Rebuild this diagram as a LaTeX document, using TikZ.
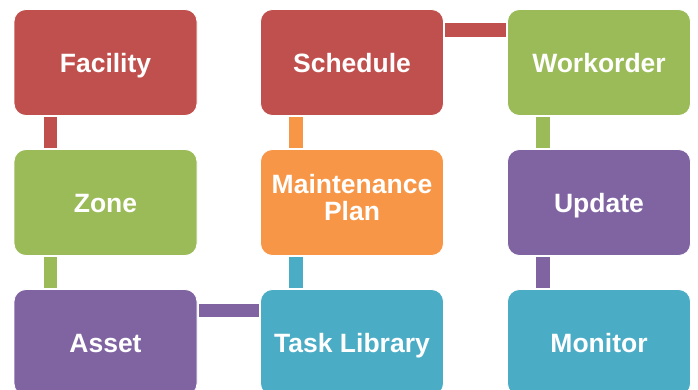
\documentclass[tikz,border=0pt]{standalone}
\usepackage{fontspec}
\setmainfont{Liberation Sans}
\definecolor{cred}{HTML}{C0504D}
\definecolor{cgreen}{HTML}{9BBB59}
\definecolor{cpurple}{HTML}{8064A2}
\definecolor{corange}{HTML}{F79646}
\definecolor{ccyan}{HTML}{4BACC6}
\begin{document}
\begin{tikzpicture}[x=1pt,y=-1pt,
  box/.style={rectangle, rounded corners=12pt, minimum width=183pt, minimum height=106pt,
    draw=white, line width=0.8pt, text=white, align=center,
    text height=19.5pt, text depth=0pt,
    font=\fontsize{26.5}{27}\selectfont\bfseries},
  twoline/.style={text height=, text depth=11pt},
  bar/.style={line width=13.5pt}]
\useasboundingbox (0,0) rectangle (698,390);
\clip (0,0) rectangle (698,390);
\node[box, fill=cred] (facility) at (105.5,62.5) {Facility};
\node[box, fill=cred] (schedule) at (352,62.5) {Schedule};
\node[box, fill=cgreen] (workorder) at (599,62.5) {Workorder};
\node[box, fill=cgreen] (zone) at (105.5,202.5) {Zone};
\node[box, twoline, fill=corange] (plan) at (352,202.5) {Maintenance\\Plan};
\node[box, fill=cpurple] (update) at (599,202.5) {Update};
\node[box, fill=cpurple] (asset) at (105.5,342.5) {Asset};
\node[box, fill=ccyan] (task) at (352,342.5) {Task Library};
\node[box, fill=ccyan] (monitor) at (599,342.5) {Monitor};
% connectors
\draw[bar, cred] ([xshift=37pt,yshift=-1.5pt]facility.south west) -- ([xshift=37pt,yshift=1.5pt]zone.north west);
\draw[bar, cgreen] ([xshift=37pt,yshift=-1.5pt]zone.south west) -- ([xshift=37pt,yshift=1.5pt]asset.north west);
\draw[bar, corange] ([xshift=36pt,yshift=-1.5pt]schedule.south west) -- ([xshift=36pt,yshift=1.5pt]plan.north west);
\draw[bar, ccyan] ([xshift=36pt,yshift=-1.5pt]plan.south west) -- ([xshift=36pt,yshift=1.5pt]task.north west);
\draw[bar, cgreen] ([xshift=36pt,yshift=-1.5pt]workorder.south west) -- ([xshift=36pt,yshift=1.5pt]update.north west);
\draw[bar, cpurple] ([xshift=36pt,yshift=-1.5pt]update.south west) -- ([xshift=36pt,yshift=1.5pt]monitor.north west);
\draw[bar, cred] ([xshift=1.5pt,yshift=-21pt]schedule.north east) -- ([xshift=-1.5pt,yshift=-21pt]workorder.north west);
\draw[bar, cpurple] ([xshift=1.5pt,yshift=-21.5pt]asset.north east) -- ([xshift=-1.5pt,yshift=-21.5pt]task.north west);
\end{tikzpicture}
\end{document}
